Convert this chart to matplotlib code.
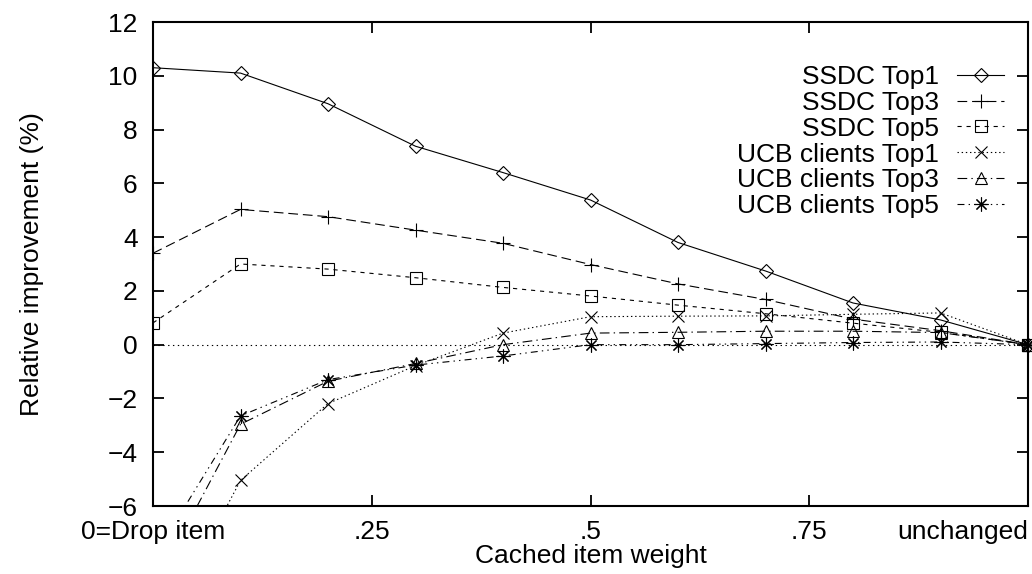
import matplotlib
matplotlib.use("Agg")
import matplotlib.pyplot as plt
import numpy as np

plt.rcParams['font.family'] = ['Liberation Sans', 'DejaVu Sans']
plt.rcParams['lines.scale_dashes'] = False

# cached item weight, 0 = drop item, 1 = unchanged
weight = [0.0, 0.1, 0.2, 0.3, 0.4, 0.5, 0.6, 0.7, 0.8, 0.9, 1.0]

ssdc_top1 = [10.3, 10.1, 8.96, 7.38, 6.4, 5.38, 3.8, 2.74, 1.55, 0.92, 0.0]
ssdc_top3 = [3.4, 5.03, 4.76, 4.26, 3.77, 2.98, 2.26, 1.68, 0.95, 0.52, 0.0]
ssdc_top5 = [0.81, 3.0, 2.81, 2.49, 2.13, 1.81, 1.47, 1.15, 0.8, 0.46, 0.0]
ucb_top1 = [-11.2, -5.05, -2.19, -0.78, 0.43, 1.04, 1.06, 1.07, 1.13, 1.18, 0.0]
ucb_top3 = [-9.1, -2.96, -1.36, -0.7, 0.0, 0.43, 0.46, 0.5, 0.5, 0.45, 0.0]
ucb_top5 = [-7.95, -2.65, -1.3, -0.76, -0.42, 0.0, 0.0, 0.04, 0.08, 0.1, 0.0]

tick_pos = [0, 0.25, 0.5, 0.75, 1.0]
tick_txt = ["0=Drop item", ".25", ".5", ".75", "unchanged"]

series = [
    ("SSDC Top1", ssdc_top1, 'D', 7, '-'),
    ("SSDC Top3", ssdc_top3, '+', 10, (0, (7, 3.5))),
    ("SSDC Top5", ssdc_top5, 's', 8, (0, (3, 3.5))),
    ("UCB clients Top1", ucb_top1, 'x', 9, (0, (1, 2))),
    ("UCB clients Top3", ucb_top3, '^', 8.5, (0, (7, 3, 1, 3))),
    ("UCB clients Top5", ucb_top5, (8, 2, 0), 10, (0, (5, 3, 1, 3, 1, 3))),
]

FS = 19

fig = plt.figure(figsize=(10.32, 5.74), dpi=100)
ax = fig.add_axes([153/1032, 1 - 506/574, 875/1032, 484/574])

ax.axhline(0, color='black', lw=0.8, ls=(0, (1, 2.5)))

for name, vals, mk, ms, ls in series:
    ax.plot(weight, vals, color='black', lw=0.8, ls=ls, marker=mk, ms=ms,
            mfc='none', mec='black', mew=0.8, label=name)
    # end markers sit on the right border
    ax.plot(weight[-1:], vals[-1:], ls='none', marker=mk, ms=ms, mfc='none',
            mec='black', mew=0.8, clip_on=False)

ax.set_xlim(0, 1)
ax.set_ylim(-6, 12)
ax.set_xticks(tick_pos)
ax.set_xticklabels(tick_txt)
ax.get_xticklabels()[-1].set_horizontalalignment('right')
ax.set_yticks(np.arange(-6, 13, 2))
ax.tick_params(direction='in', length=8, width=1.3, top=True, right=True,
               labelsize=FS)
ax.tick_params(axis='x', pad=10)
ax.tick_params(axis='y', pad=11)
for sp in ax.spines.values():
    sp.set_linewidth(1.5)

ax.set_xlabel("Cached item weight", fontsize=FS, labelpad=0)
ax.set_ylabel("Relative improvement (%)", fontsize=FS, labelpad=46)

ax.legend(loc='upper right', bbox_to_anchor=(1004/1032, 1 - 65/574),
          bbox_transform=fig.transFigure, frameon=False, fontsize=FS,
          markerfirst=False, handlelength=1.78, handletextpad=0.7,
          labelspacing=0.07, borderpad=0, borderaxespad=0)

fig.savefig("out.png", dpi=100)
